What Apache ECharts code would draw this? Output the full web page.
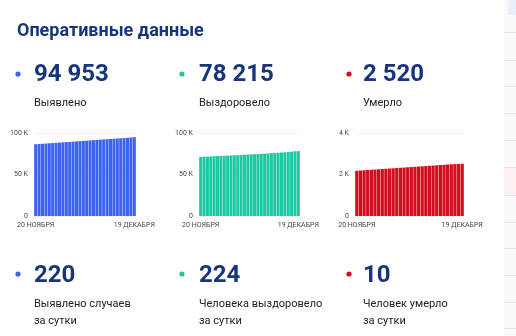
<!DOCTYPE html>
<html><head><meta charset="utf-8">
<script src="https://cdn.jsdelivr.net/npm/echarts@6/dist/echarts.min.js"></script>
<style>html,body{margin:0;padding:0;background:#fff}#c{width:516px;height:336px}</style>
</head><body><div id="c"></div>
<script>
const dates = ["20 НОЯБРЯ","21 НОЯБРЯ","22 НОЯБРЯ","23 НОЯБРЯ","24 НОЯБРЯ","25 НОЯБРЯ","26 НОЯБРЯ","27 НОЯБРЯ","28 НОЯБРЯ","29 НОЯБРЯ","30 НОЯБРЯ",
 "1 ДЕКАБРЯ","2 ДЕКАБРЯ","3 ДЕКАБРЯ","4 ДЕКАБРЯ","5 ДЕКАБРЯ","6 ДЕКАБРЯ","7 ДЕКАБРЯ","8 ДЕКАБРЯ","9 ДЕКАБРЯ","10 ДЕКАБРЯ",
 "11 ДЕКАБРЯ","12 ДЕКАБРЯ","13 ДЕКАБРЯ","14 ДЕКАБРЯ","15 ДЕКАБРЯ","16 ДЕКАБРЯ","17 ДЕКАБРЯ","18 ДЕКАБРЯ","19 ДЕКАБРЯ"];
const detected = [86420,86710,87000,87300,87590,87880,88170,88470,88760,89050,89340,89640,89930,90220,90510,90800,91090,91380,91660,91950,92240,92530,92810,93090,93370,93640,93910,94180,94733,94953];
const recovered = [71200,71390,71580,71770,71960,72150,72350,72550,72750,72950,73160,73370,73580,73800,74020,74250,74480,74710,74950,75190,75440,75690,75950,76220,76500,76790,77090,77400,77991,78215];
const deaths = [2180,2193,2204,2216,2229,2240,2252,2265,2276,2288,2300,2313,2324,2336,2349,2360,2372,2385,2396,2408,2421,2432,2444,2457,2468,2480,2492,2501,2510,2520];
const totals = ["94 953","78 215","2 520"];
const totalLabels = ["Выявлено","Выздоровело","Умерло"];
const daily = ["220","224","10"];
const dailyLabels = [["Выявлено случаев","за сутки"],["Человека выздоровело","за сутки"],["Человек умерло","за сутки"]];
const yTicks1 = [0,50000,100000];
const yTicks3 = [0,2000,4000];

const colors = ["#3d63ee","#1ec9a1","#d20f1f"];
const colX = [34,199,363];
const dotX = [18,182,349];
const navy = "#17347d";
const FF = "Roboto, 'Noto Sans', sans-serif";

const grids = [
  {left:34, top:133, width:102, height:83},
  {left:199, top:133, width:101, height:83},
  {left:355, top:133, width:109, height:83}
];
const seriesData = [detected, recovered, deaths];
const ticks = [yTicks1, yTicks1, yTicks3];

const xAxes = grids.map((g,i)=>({
  type:'category', gridIndex:i, data:dates,
  axisLine:{show:false}, axisTick:{show:false},
  axisLabel:{interval:(idx)=>idx===0||idx===dates.length-1, color:'#444', fontSize:7, fontFamily:FF, margin:6, showMinLabel:true, showMaxLabel:true}
}));
const yAxes = grids.map((g,i)=>({
  type:'value', gridIndex:i, min:ticks[i][0], max:ticks[i][2], interval:ticks[i][1],
  axisLine:{show:false}, axisTick:{show:false},
  splitLine:{show:true, lineStyle:{color:'#f2f2f2', width:1}},
  axisLabel:{color:'#444', fontSize:7, fontFamily:FF, margin:6, formatter:v=>v===0?'0':(v/1000)+' K'}
}));
const series = seriesData.map((d,i)=>({
  type:'bar', xAxisIndex:i, yAxisIndex:i, data:d, barCategoryGap:'10%',
  itemStyle:{color:colors[i]}, silent:true, animation:false
}));

const graphic = [];
graphic.push({type:'text', left:17, top:22, style:{text:'Оперативные данные', font:'bold 18px '+FF, fill:navy}});
// right side faint panel
graphic.push({type:'rect', shape:{x:504,y:0,width:12,height:336}, style:{fill:'#f9f9f9'}, silent:true});
graphic.push({type:'rect', shape:{x:508,y:0,width:8,height:15}, style:{fill:'#eaf0f9'}, silent:true});
graphic.push({type:'rect', shape:{x:504,y:167,width:12,height:28}, style:{fill:'#fdf0f0'}, silent:true});
[32,60,86,113,140,167,195,222,248,275,302,328].forEach(y=>{
  graphic.push({type:'line', shape:{x1:504,y1:y+0.5,x2:516,y2:y+0.5}, style:{stroke:'#e6e6e6', lineWidth:1}, silent:true});
});
for (let i=0;i<3;i++){
  graphic.push({type:'circle', shape:{cx:dotX[i], cy:74, r:2.6}, style:{fill:colors[i]}});
  graphic.push({type:'text', left:colX[i], top:63, style:{text:totals[i], font:'bold 24px '+FF, fill:navy}});
  graphic.push({type:'text', left:colX[i], top:98, style:{text:totalLabels[i], font:'11px '+FF, fill:'#222'}});
  graphic.push({type:'circle', shape:{cx:dotX[i], cy:274, r:2.6}, style:{fill:colors[i]}});
  graphic.push({type:'text', left:colX[i], top:264, style:{text:daily[i], font:'bold 24px '+FF, fill:navy}});
  graphic.push({type:'text', left:colX[i], top:299, style:{text:dailyLabels[i][0], font:'11px '+FF, fill:'#222'}});
  graphic.push({type:'text', left:colX[i], top:316, style:{text:dailyLabels[i][1], font:'11px '+FF, fill:'#222'}});
}

const chart = echarts.init(document.getElementById('c'), null, {renderer:'canvas'});
chart.setOption({
  animation:false, backgroundColor:'#fff',
  grid:grids, xAxis:xAxes, yAxis:yAxes, series:series, graphic:graphic
});
</script></body></html>
